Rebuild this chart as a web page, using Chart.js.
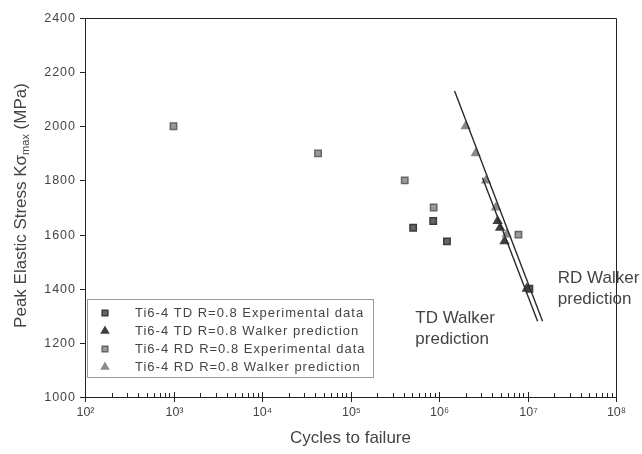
<!DOCTYPE html>
<html><head><meta charset="utf-8">
<script src="https://cdn.jsdelivr.net/npm/chart.js@4.4.0/dist/chart.umd.min.js"></script>
<style>html,body{margin:0;padding:0;background:#fff;}#wrap{width:642px;height:454px;}</style>
</head><body><div id="wrap"><canvas id="c" width="642" height="454"></canvas></div>
<script>
// ---- data ----
const tdExpCycles    = [5.1e5, 8.6e5, 1.23e6, 1.05e7];
const tdExpStress    = [1625, 1650, 1575, 1400];
const tdWalkerCycles = [4.6e6, 4.9e6, 5.5e6, 9.8e6];
const tdWalkerStress = [1650, 1625, 1575, 1400];
const rdExpCycles    = [1.0e3, 4.3e4, 4.1e5, 8.7e5, 7.9e6];
const rdExpStress    = [2000, 1900, 1800, 1700, 1600];
const rdWalkerCycles = [2.0e6, 2.6e6, 3.4e6, 4.4e6, 5.8e6];
const rdWalkerStress = [2000, 1900, 1800, 1700, 1600];
const rdLineCycles   = [1.5e6, 1.48e7];
const rdLineStress   = [2130, 1280];
const tdLineCycles   = [3.1e6, 1.3e7];
const tdLineStress   = [1810, 1280];
const yTickValues    = [1000, 1200, 1400, 1600, 1800, 2000, 2200, 2400];
const xTickExponents = [2, 3, 4, 5, 6, 7, 8];
const seriesLabels = [
  'Ti6-4 TD R=0.8 Experimental data',
  'Ti6-4 TD R=0.8 Walker prediction',
  'Ti6-4 RD R=0.8 Experimental data',
  'Ti6-4 RD R=0.8 Walker prediction'
];
const xTitle = 'Cycles to failure';
const tdNote = ['TD Walker', 'prediction'];
const rdNote = ['RD Walker', 'prediction'];
const tdNoteAt = {x: 5.4e5, y: 1290};
const rdNoteAt = {x: 2.2e7, y: 1440};

const pts = (xs, ys) => xs.map((x, i) => ({x: x, y: ys[i]}));
const SUP = {'0':'⁰','1':'¹','2':'²','3':'³','4':'⁴','5':'⁵','6':'⁶','7':'⁷','8':'⁸','9':'⁹'};
const FONT = '"Liberation Sans", Arial, sans-serif';

const styles = {
  tdExp: {pointStyle: 'rect', backgroundColor: '#666', borderColor: '#3a3a3a', radius: 4.5},
  tdWalk: {pointStyle: 'triangle', backgroundColor: '#3f3f3f', borderColor: '#3f3f3f', radius: 4.5},
  rdExp: {pointStyle: 'rect', backgroundColor: '#9a9a9a', borderColor: '#666', radius: 4.5},
  rdWalk: {pointStyle: 'triangle', backgroundColor: '#8a8a8a', borderColor: '#8a8a8a', radius: 4.5}
};
function scatterDs(label, data, st) {
  return {label: label, data: data, showLine: false, pointStyle: st.pointStyle,
    pointRadius: st.radius, pointBackgroundColor: st.backgroundColor,
    pointBorderColor: st.borderColor, pointBorderWidth: 1.5};
}

const overlay = {
  id: 'overlay',
  afterDraw(chart) {
    const ctx = chart.ctx, a = chart.chartArea, xs = chart.scales.x, ys = chart.scales.y;
    ctx.save();
    // frame
    ctx.strokeStyle = '#222'; ctx.lineWidth = 1;
    ctx.beginPath();
    ctx.moveTo(a.left + 0.5, a.top + 0.5); ctx.lineTo(a.right + 0.5, a.top + 0.5);
    ctx.lineTo(a.right + 0.5, a.bottom + 0.5); ctx.lineTo(a.left + 0.5, a.bottom + 0.5);
    ctx.closePath(); ctx.stroke();
    // y ticks
    ctx.fillStyle = '#444'; ctx.font = '12.5px ' + FONT; ctx.letterSpacing = '1px';
    ctx.textAlign = 'right'; ctx.textBaseline = 'middle';
    yTickValues.forEach(v => {
      const y = Math.round(ys.getPixelForValue(v)) + 0.5;
      ctx.beginPath(); ctx.moveTo(a.left - 5, y); ctx.lineTo(a.left, y); ctx.stroke();
      ctx.fillText(String(v), a.left - 9, y);
    });
    ctx.letterSpacing = '0px';
    // x ticks
    ctx.font = '12.5px ' + FONT;
    ctx.textAlign = 'center'; ctx.textBaseline = 'top';
    xTickExponents.forEach((e, i) => {
      const x = Math.round(xs.getPixelForValue(Math.pow(10, e))) + 0.5;
      ctx.beginPath(); ctx.moveTo(x, a.bottom - 5); ctx.lineTo(x, a.bottom + 5); ctx.stroke();
      ctx.fillText('10' + String(e).split('').map(c => SUP[c]).join(''), x, a.bottom + 9);
      if (i < xTickExponents.length - 1) {
        for (let m = 2; m <= 9; m++) {
          const xm = Math.round(xs.getPixelForValue(m * Math.pow(10, e))) + 0.5;
          ctx.beginPath(); ctx.moveTo(xm, a.bottom - 4); ctx.lineTo(xm, a.bottom); ctx.stroke();
        }
      }
    });
    // x title
    ctx.font = '17px ' + FONT; ctx.fillStyle = '#444';
    ctx.fillText(xTitle, (a.left + a.right) / 2, a.bottom + 33);
    // y title with subscript
    ctx.save();
    ctx.translate(21, (a.top + a.bottom) / 2 - 2);
    ctx.rotate(-Math.PI / 2);
    const f1 = '17px ' + FONT, f2 = '11px ' + FONT;
    const p1 = 'Peak Elastic Stress Kσ', p2 = 'max', p3 = ' (MPa)';
    ctx.font = f1; const w1 = ctx.measureText(p1).width, w3 = ctx.measureText(p3).width;
    ctx.font = f2; const w2 = ctx.measureText(p2).width;
    let x0 = -(w1 + w2 + w3) / 2;
    ctx.textAlign = 'left'; ctx.textBaseline = 'middle';
    ctx.font = f1; ctx.fillText(p1, x0, 0); x0 += w1;
    ctx.font = f2; ctx.fillText(p2, x0, 5); x0 += w2;
    ctx.font = f1; ctx.fillText(p3, x0, 0);
    ctx.restore();
    // annotations
    ctx.font = '17px ' + FONT; ctx.fillStyle = '#444';
    ctx.textAlign = 'left'; ctx.textBaseline = 'middle';
    [[tdNote, tdNoteAt], [rdNote, rdNoteAt]].forEach(([lines, at]) => {
      const x = xs.getPixelForValue(at.x), y = ys.getPixelForValue(at.y);
      lines.forEach((t, k) => ctx.fillText(t, x, y + k * 21));
    });
    // legend
    const lx = a.left + 2, ly = 299, lw = 286, lh = 78;
    ctx.fillStyle = '#fff'; ctx.fillRect(lx, ly, lw, lh);
    ctx.strokeStyle = '#999'; ctx.strokeRect(lx + 0.5, ly + 0.5, lw, lh);
    const legStyles = [styles.tdExp, styles.tdWalk, styles.rdExp, styles.rdWalk];
    ctx.font = '13px ' + FONT; ctx.letterSpacing = '1px';
    ctx.textBaseline = 'middle'; ctx.textAlign = 'left';
    seriesLabels.forEach((lab, k) => {
      const cy = ly + 14 + k * 18;
      const st = legStyles[k];
      ctx.fillStyle = st.backgroundColor; ctx.strokeStyle = st.borderColor; ctx.lineWidth = 1.5;
      Chart.helpers.drawPoint(ctx, {pointStyle: st.pointStyle, radius: 4, borderWidth: 1.5}, 105, cy);
      ctx.fillStyle = '#444';
      ctx.fillText(lab, 135, cy);
    });
    ctx.letterSpacing = '0px';
    ctx.restore();
  }
};

new Chart(document.getElementById('c'), {
  type: 'scatter',
  data: {
    datasets: [
      {label: 'RD line', data: pts(rdLineCycles, rdLineStress), showLine: true, borderColor: '#2a2a2a', borderWidth: 1.4, pointRadius: 0},
      {label: 'TD line', data: pts(tdLineCycles, tdLineStress), showLine: true, borderColor: '#2a2a2a', borderWidth: 1.4, pointRadius: 0},
      scatterDs(seriesLabels[2], pts(rdExpCycles, rdExpStress), styles.rdExp),
      scatterDs(seriesLabels[3], pts(rdWalkerCycles, rdWalkerStress), styles.rdWalk),
      scatterDs(seriesLabels[1], pts(tdWalkerCycles, tdWalkerStress), styles.tdWalk),
      scatterDs(seriesLabels[0], pts(tdExpCycles, tdExpStress), styles.tdExp)
    ]
  },
  options: {
    responsive: false, animation: false, devicePixelRatio: 1,
    layout: {padding: {top: 18, right: 26, left: 0, bottom: 0}},
    plugins: {legend: {display: false}, tooltip: {enabled: false}},
    scales: {
      x: {type: 'logarithmic', min: 100, max: 1e8,
        grid: {display: false}, border: {display: false}, ticks: {display: false},
        afterFit(s) { s.height = 57; }},
      y: {type: 'linear', min: 1000, max: 2400,
        grid: {display: false}, border: {display: false}, ticks: {display: false},
        afterFit(s) { s.width = 85; }}
    }
  },
  plugins: [overlay]
});
</script></body></html>
